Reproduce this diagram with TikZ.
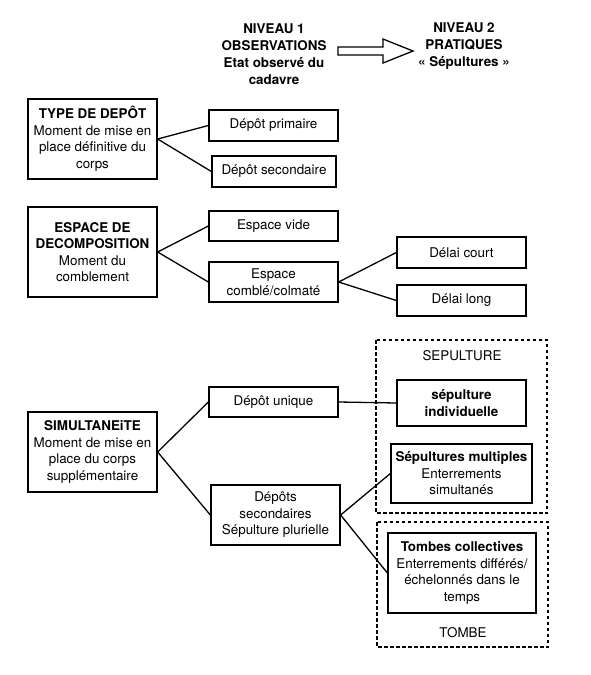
\documentclass[tikz,border=0pt]{standalone}
\usepackage{fontspec}
\setmainfont{TeX Gyre Heros}
\tikzset{
	boite/.style={draw,line width=1.3pt,inner sep=0pt,align=center,font=\fontsize{13.4}{16.5}\selectfont},
	lien/.style={line width=1.3pt},
	cadre/.style={line width=1.2pt,dash pattern=on 3.5pt off 2.5pt},
	titre/.style={align=center,font=\bfseries\fontsize{13.4}{17}\selectfont}
}
\begin{document}
\begin{tikzpicture}[x=1pt,y=-1pt]
	\useasboundingbox (0,0) rectangle (591,675);
	% niveaux
	\node[titre] (niv1) at (274,54.5) {NIVEAU 1\\OBSERVATIONS\\Etat observé du\\cadavre};
	\node[titre] (niv2) at (464,46) {NIVEAU 2\\PRATIQUES\\« Sépultures »};
	\draw[lien,line join=miter] (338,47) -- (383,47) -- (383,39) -- (413,51) -- (383,63) -- (383,55) -- (338,55) -- cycle;
	% colonne gauche
	\node[boite,minimum width=129,minimum height=80] (type) at (92.5,139) {{\bfseries TYPE DE DEPÔT}\\Moment de mise en\\place définitive du\\corps};
	\node[boite,minimum width=129,minimum height=90] (esp) at (92.5,252) {{\bfseries ESPACE DE}\\{\bfseries DECOMPOSITION}\\Moment du\\comblement};
	\node[boite,minimum width=129,minimum height=80] (simu) at (92.5,452) {{\bfseries SIMULTANEiTE}\\Moment de mise en\\place du corps\\supplémentaire};
	% colonne du milieu
	\node[boite,minimum width=129,minimum height=31] (prim) at (273.5,125.5) {Dépôt primaire};
	\node[boite,minimum width=124,minimum height=31] (sec) at (274,171.5) {Dépôt secondaire};
	\node[boite,minimum width=129,minimum height=30] (vide) at (273.5,226) {Espace vide};
	\node[boite,minimum width=129,minimum height=40] (combl) at (273.5,282) {Espace\\comblé/colmaté};
	\node[boite,minimum width=129,minimum height=30] (unique) at (273.5,402) {Dépôt unique};
	\node[boite,minimum width=129,minimum height=60] (plur) at (275.5,515) {Dépôts\\secondaires\\Sépulture plurielle};
	% colonne droite
	\node[boite,minimum width=129,minimum height=31] (court) at (461.5,252.5) {Délai court};
	\node[boite,minimum width=129,minimum height=31] (long) at (461.5,300.5) {Délai long};
	\draw[cadre] (376,340) rectangle (547,513);
	\draw[cadre] (377,522) rectangle (548,647);
	\node[font=\fontsize{13.4}{16.5}\selectfont] (sep) at (462,356) {SEPULTURE};
	\node[font=\fontsize{13.4}{16.5}\selectfont] (tombe) at (463,633) {TOMBE};
	\node[boite,minimum width=129,minimum height=46] (indiv) at (461.5,403) {{\bfseries sépulture}\\{\bfseries individuelle}};
	\node[boite,minimum width=141,minimum height=59] (multi) at (461.5,473.5) {{\bfseries Sépultures multiples}\\Enterrements\\simultanés};
	\node[boite,minimum width=148,minimum height=80] (coll) at (462,573) {{\bfseries Tombes collectives}\\Enterrements différés/\\échelonnés dans le\\temps};
	\foreach \a/\b in {type/prim,type/sec,esp/vide,esp/combl,combl/court,combl/long,simu/unique,simu/plur,unique/indiv,plur/multi,plur/coll}
	\draw[lien] (\a.east) -- (\b.west);
\end{tikzpicture}
\end{document}
